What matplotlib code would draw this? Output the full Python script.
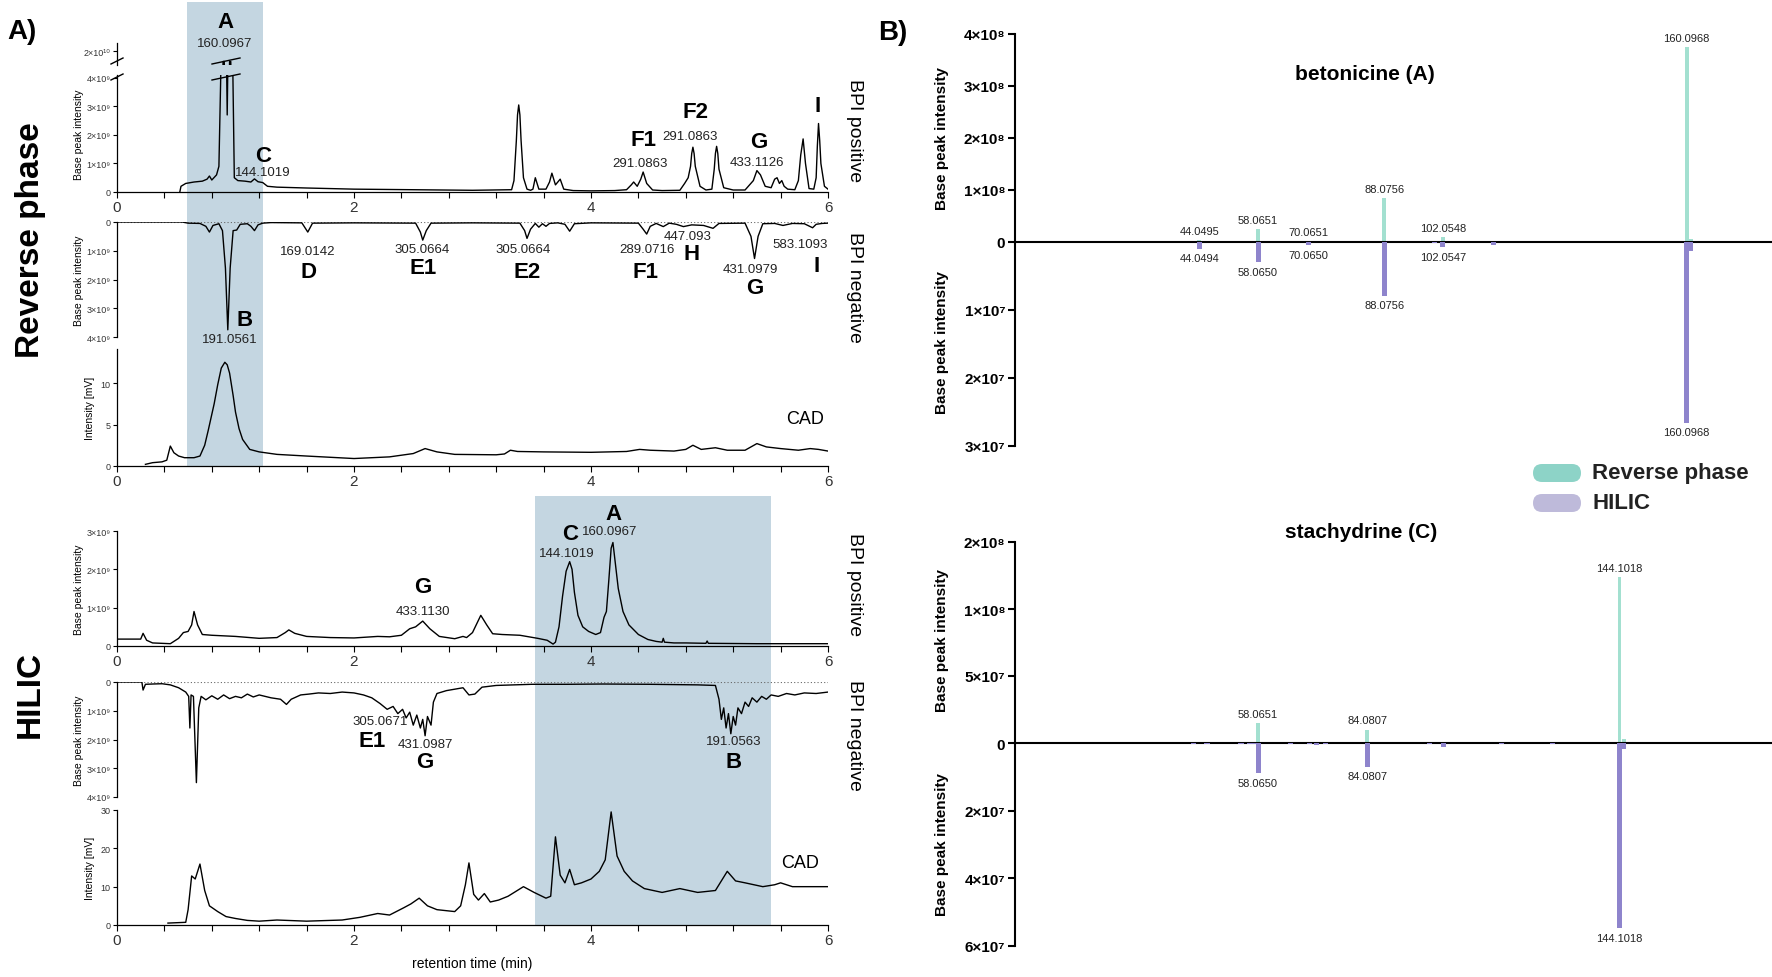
import matplotlib
matplotlib.use("Agg")
import matplotlib.pyplot as plt
import numpy as np
from matplotlib.patches import Rectangle, FancyBboxPatch
from matplotlib.lines import Line2D

plt.rcParams["font.family"] = ["Liberation Sans", "DejaVu Sans"]

W, H = 1772, 978

# ---------------- chromatogram data (time in min, intensity) ----------------
# reverse phase, BPI positive (x1e9)
rp_pos = [(0.53, 0), (0.54, 0.2), (0.58, 0.3), (0.65, 0.35), (0.72, 0.38), (0.76, 0.45),
          (0.78, 0.56), (0.80, 0.42), (0.84, 0.6), (0.86, 0.9), (0.88, 5), (0.895, 18.5),
          (0.905, 18.5), (0.92, 6), (0.93, 2.7), (0.94, 6), (0.95, 18.5), (0.96, 18.5),
          (0.975, 5), (0.99, 0.5), (1.02, 0.4), (1.08, 0.38), (1.13, 0.35), (1.16, 0.46),
          (1.19, 0.36), (1.23, 0.33), (1.27, 0.2), (1.35, 0.17), (1.6, 0.14), (2.0, 0.1),
          (2.5, 0.08), (3.0, 0.06), (3.33, 0.08), (3.35, 0.4), (3.37, 1.8), (3.38, 2.7),
          (3.39, 3.05), (3.40, 2.7), (3.41, 1.8), (3.43, 0.5), (3.46, 0.1), (3.49, 0.06),
          (3.51, 0.1), (3.53, 0.5), (3.56, 0.1),
          (3.62, 0.1), (3.65, 0.35), (3.67, 0.66), (3.7, 0.25), (3.72, 0.35), (3.74, 0.45),
          (3.77, 0.1), (3.85, 0.05), (4.0, 0.04), (4.2, 0.05), (4.3, 0.08), (4.34, 0.25),
          (4.36, 0.35), (4.39, 0.2), (4.42, 0.45), (4.44, 0.7), (4.47, 0.3), (4.52, 0.07),
          (4.6, 0.05), (4.75, 0.06), (4.79, 0.3), (4.82, 0.5), (4.84, 0.9), (4.85, 1.35),
          (4.86, 1.57), (4.87, 1.35), (4.88, 0.9), (4.92, 0.2), (4.97, 0.07), (5.02, 0.1),
          (5.04, 0.8), (5.05, 1.35), (5.06, 1.6), (5.07, 1.35),
          (5.08, 0.8), (5.12, 0.15), (5.2, 0.07), (5.3, 0.07), (5.37, 0.4), (5.4, 0.75),
          (5.43, 0.6), (5.47, 0.2), (5.52, 0.15), (5.55, 0.45), (5.57, 0.5), (5.59, 0.3),
          (5.61, 0.4), (5.63, 0.2), (5.66, 0.1), (5.72, 0.08), (5.75, 0.4), (5.77, 1.3),
          (5.79, 1.86), (5.81, 1.0), (5.84, 0.12), (5.88, 0.1), (5.9, 0.5), (5.91, 1.6),
          (5.92, 2.4), (5.93, 1.8), (5.94, 1.0), (5.97, 0.2), (6.0, 0.1)]

# reverse phase, BPI negative (depth, x1e9)
rp_neg = [(0, 0), (0.55, 0.0), (0.6, 0.04), (0.7, 0.05), (0.75, 0.15), (0.78, 0.35),
          (0.81, 0.12), (0.86, 0.06), (0.89, 0.3), (0.915, 1.6), (0.935, 3.75), (0.955, 1.6),
          (0.98, 0.3), (1.01, 0.28), (1.04, 0.08), (1.1, 0.06), (1.13, 0.15), (1.16, 0.3),
          (1.19, 0.1), (1.23, 0.04), (1.3, 0.02), (1.56, 0.03), (1.61, 0.35), (1.65, 0.04),
          (2.0, 0.03), (2.52, 0.04), (2.56, 0.35), (2.58, 0.63), (2.61, 0.3), (2.65, 0.04),
          (3.0, 0.03), (3.4, 0.04), (3.44, 0.3), (3.46, 0.57), (3.49, 0.25), (3.53, 0.05),
          (3.56, 0.18), (3.59, 0.06), (3.62, 0.15), (3.65, 0.05), (3.72, 0.03), (3.78, 0.08),
          (3.82, 0.32), (3.86, 0.06), (4.0, 0.03), (4.4, 0.04), (4.44, 0.25), (4.47, 0.42),
          (4.5, 0.15), (4.55, 0.05), (4.61, 0.16), (4.66, 0.04), (4.72, 0.08), (4.78, 0.16),
          (4.85, 0.1), (4.95, 0.12), (5.03, 0.22), (5.08, 0.05), (5.3, 0.04), (5.35, 0.5),
          (5.38, 1.27), (5.41, 0.5), (5.45, 0.06), (5.55, 0.05), (5.62, 0.12), (5.7, 0.05),
          (5.8, 0.06), (5.84, 0.14), (5.87, 0.2), (5.9, 0.08), (5.95, 0.05), (6.0, 0.04)]

# reverse phase, CAD (mV)
rp_cad = [(0.24, 0.2), (0.3, 0.4), (0.38, 0.5), (0.42, 0.7), (0.45, 2.4), (0.48, 1.6),
          (0.52, 1.2), (0.57, 1.0), (0.65, 1.0), (0.7, 1.2), (0.74, 2.5), (0.77, 4.3),
          (0.82, 7.5), (0.85, 9.8), (0.88, 11.8), (0.91, 12.5), (0.93, 12.2), (0.95, 11.2),
          (0.98, 8.5), (1.0, 6.5), (1.03, 4.5), (1.06, 3.2),
          (1.12, 2.0), (1.2, 1.7), (1.35, 1.4), (1.6, 1.2), (2.0, 0.9), (2.3, 1.1),
          (2.5, 1.5), (2.6, 2.1), (2.7, 1.7), (2.85, 1.4), (3.2, 1.35), (3.27, 1.45),
          (3.32, 1.9), (3.38, 1.75), (3.6, 1.7), (4.0, 1.65), (4.3, 1.75), (4.41, 2.0),
          (4.5, 1.9), (4.7, 1.8), (4.8, 2.0), (4.86, 2.5), (4.93, 2.0), (5.05, 2.2),
          (5.15, 1.9), (5.3, 1.9), (5.4, 2.7), (5.48, 2.3), (5.6, 2.1), (5.75, 1.9),
          (5.85, 2.1), (5.92, 2.0), (6.0, 1.8)]

# HILIC, BPI positive (x1e9)
hi_pos = [(0, 0.18), (0.2, 0.18), (0.22, 0.33), (0.25, 0.15), (0.3, 0.08), (0.45, 0.06),
          (0.52, 0.2), (0.56, 0.35), (0.6, 0.38), (0.63, 0.55), (0.65, 0.9), (0.68, 0.55),
          (0.72, 0.3), (0.8, 0.28), (1.0, 0.25), (1.2, 0.2), (1.35, 0.22), (1.42, 0.35),
          (1.45, 0.42), (1.5, 0.33), (1.6, 0.25), (1.8, 0.22), (2.0, 0.21), (2.2, 0.25),
          (2.3, 0.24), (2.4, 0.28), (2.47, 0.45), (2.52, 0.5), (2.58, 0.65), (2.64, 0.45),
          (2.72, 0.25), (2.85, 0.19), (2.92, 0.25), (2.95, 0.22), (3.0, 0.35), (3.07, 0.8),
          (3.12, 0.55), (3.17, 0.32), (3.25, 0.3), (3.4, 0.28), (3.55, 0.2), (3.63, 0.15),
          (3.68, 0.05), (3.70, 0.1), (3.73, 0.5), (3.76, 1.3), (3.79, 1.95), (3.82, 2.2),
          (3.84, 2.0), (3.86, 1.4), (3.89, 0.8), (3.93, 0.5), (3.98, 0.38), (4.04, 0.3),
          (4.08, 0.35), (4.11, 0.75), (4.13, 0.9), (4.15, 1.7), (4.17, 2.55), (4.185, 2.7),
          (4.2, 2.3), (4.23, 1.5), (4.27, 0.9), (4.32, 0.55), (4.4, 0.3), (4.48, 0.17),
          (4.55, 0.12), (4.6, 0.1), (4.61, 0.2),
          (4.62, 0.1), (4.7, 0.08), (4.8, 0.08), (4.97, 0.07), (4.98, 0.13), (4.99, 0.07),
          (5.4, 0.06), (6.0, 0.06)]

# HILIC, BPI negative (depth, x1e9)
hi_neg = [(0, 0), (0.21, 0.0), (0.22, 0.28), (0.24, 0.08), (0.3, 0.07), (0.38, 0.06),
          (0.45, 0.1), (0.52, 0.2), (0.58, 0.35), (0.605, 0.5), (0.615, 1.6), (0.625, 0.45),
          (0.645, 0.5), (0.67, 3.5), (0.69, 0.9), (0.71, 0.5), (0.75, 0.62), (0.8, 0.48),
          (0.85, 0.6), (0.9, 0.45), (0.95, 0.58), (1.0, 0.5), (1.05, 0.55), (1.1, 0.42),
          (1.15, 0.52), (1.2, 0.45), (1.25, 0.5), (1.3, 0.55), (1.38, 0.6), (1.43, 0.78),
          (1.47, 0.6), (1.55, 0.45), (1.62, 0.42), (1.7, 0.38), (1.8, 0.4), (1.9, 0.35),
          (2.0, 0.38), (2.08, 0.45), (2.15, 0.55), (2.22, 0.75), (2.28, 0.95), (2.33, 0.85),
          (2.37, 1.1), (2.41, 0.95), (2.44, 1.25), (2.47, 1.05), (2.5, 1.5), (2.53, 1.15),
          (2.56, 1.6), (2.58, 1.3), (2.6, 1.87), (2.62, 1.2), (2.65, 1.5), (2.67, 0.7),
          (2.7, 0.4), (2.78, 0.3), (2.85, 0.25), (2.92, 0.2), (2.97, 0.45), (3.02, 0.42),
          (3.08, 0.18), (3.2, 0.12), (3.5, 0.08), (3.8, 0.08), (4.1, 0.07), (4.5, 0.08),
          (4.9, 0.1), (5.05, 0.12), (5.08, 0.6), (5.1, 1.3), (5.12, 0.9), (5.14, 1.6),
          (5.16, 1.1), (5.18, 1.8), (5.2, 1.2), (5.22, 1.5), (5.24, 0.9), (5.27, 1.1),
          (5.3, 0.7), (5.33, 0.85), (5.36, 0.55), (5.4, 0.7), (5.44, 0.5), (5.48, 0.6),
          (5.52, 0.45), (5.58, 0.5), (5.65, 0.4), (5.72, 0.45), (5.8, 0.38), (5.9, 0.4),
          (6.0, 0.35)]

# HILIC, CAD (mV)
hi_cad = [(0.43, 0.5), (0.58, 0.7), (0.6, 4.0), (0.63, 12.8), (0.66, 12.0), (0.7, 15.9),
          (0.74, 9.0), (0.78, 5.0), (0.85, 3.5), (0.92, 2.2), (1.0, 1.7), (1.1, 1.2),
          (1.2, 1.0), (1.35, 1.3), (1.6, 1.0), (1.9, 1.3), (2.05, 2.0), (2.2, 3.0),
          (2.3, 2.6), (2.42, 4.5), (2.48, 5.5), (2.55, 7.0), (2.62, 5.0), (2.7, 4.0),
          (2.85, 3.5), (2.9, 5.0), (2.94, 10.5), (2.97, 16.2), (3.01, 8.0), (3.05, 6.5),
          (3.1, 8.2), (3.15, 6.0), (3.22, 6.5), (3.3, 7.5), (3.43, 10.0), (3.52, 8.5),
          (3.62, 7.0), (3.66, 7.5), (3.7, 23.0), (3.74, 13.0), (3.78, 11.0), (3.82, 14.5),
          (3.86, 10.5), (3.92, 11.0), (4.0, 12.0), (4.07, 14.0), (4.12, 17.0), (4.17, 29.5),
          (4.22, 18.0), (4.28, 14.0), (4.35, 11.5), (4.45, 9.5), (4.6, 8.5), (4.75, 9.5),
          (4.9, 8.5), (5.05, 9.0), (5.1, 11.5), (5.15, 14.0), (5.22, 11.5), (5.3, 11.0),
          (5.45, 10.0), (5.55, 10.5), (5.6, 11.0), (5.7, 10.0), (6.0, 10.0)]

# ---------------- MS/MS spectra (m/z, base peak intensity) ----------------
beton_rp_mz = [44.0495, 58.0651, 70.0651, 88.0756, 102.0548, 160.0968]
beton_rp_int = [4e6, 2.5e7, 2e6, 8.5e7, 1.0e7, 3.75e8]
beton_rp_minor_mz = [100.1, 161.1]
beton_rp_minor_int = [1e6, 5e6]
beton_hil_mz = [44.0494, 58.0650, 70.0650, 88.0756, 102.0547, 160.0968]
beton_hil_int = [1.0e6, 3.0e6, 5e5, 7.9e6, 8e5, 2.66e7]
beton_hil_minor_mz = [100.0, 114.1, 161.1]
beton_hil_minor_int = [2e5, 4e5, 1.3e6]

stach_rp_mz = [58.0651, 84.0807, 144.1018]
stach_rp_int = [1.5e7, 1.0e7, 1.48e8]
stach_rp_minor_mz = [145.1]
stach_rp_minor_int = [3e6]
stach_hil_mz = [58.0650, 84.0807, 144.1018]
stach_hil_int = [9e6, 7e6, 5.48e7]
stach_hil_minor_mz = [42.6, 45.9, 54.0, 56.0, 57.0, 65.7, 70.4, 72.0, 74.2, 98.8, 102.1, 116.1, 128.1, 145.1]
stach_hil_minor_int = [2e5, 3e5, 4e5, 3e5, 4e5, 3e5, 4e5, 6e5, 4e5, 3e5, 1.2e6, 2e5, 3e5, 1.8e6]

RP_COL = "#a3e0d0"
HIL_COL = "#8e84cc"
SHADE = "#c4d6e1"

SUP = {"7": "⁷", "8": "⁸", "9": "⁹", "10": "¹⁰"}


def rect(x0, y0, x1, y1):
    return [x0 / W, 1 - y1 / H, (x1 - x0) / W, (y1 - y0) / H]


def sci(v, e):
    return "0" if v == 0 else f"{v:g}×10{SUP[e]}"


fig = plt.figure(figsize=(W / 100, H / 100), dpi=100)


def ftext(x, y, s, **kw):
    kw.setdefault("ha", "center")
    kw.setdefault("va", "center")
    fig.text(x / W, 1 - y / H, s, **kw)


xt = np.round(np.arange(0, 6.01, 0.4), 1)
xl = [f"{x:g}" if x % 2 == 0 else "" for x in xt]


def chrom(box, ylim, yticks, ylabels, xlab=True):
    ax = fig.add_axes(rect(*box))
    ax.set_facecolor("none")
    ax.set_xlim(0, 6)
    ax.set_ylim(*ylim)
    ax.spines[["top", "right"]].set_visible(False)
    ax.spines["left"].set_linewidth(0.9)
    ax.set_yticks(yticks, ylabels)
    ax.tick_params(axis="y", length=3, width=0.8, labelsize=6.5, pad=1.5, labelcolor="#333")
    if xlab:
        ax.spines["bottom"].set_linewidth(0.9)
        ax.set_xticks(xt, xl)
        ax.tick_params(axis="x", length=4, width=0.8, labelsize=11, pad=2, labelcolor="#333")
    else:
        ax.spines["bottom"].set_visible(False)
        ax.set_xticks([])
    return ax


def trace(ax, data):
    t, v = np.array(data).T
    ax.plot(t, v, color="k", lw=1.0)


# shaded retention windows
for x0, y0, x1, y1 in [(187, 3, 263, 467), (535, 497, 771, 926)]:
    fig.add_artist(Rectangle((x0 / W, 1 - y1 / H), (x1 - x0) / W, (y1 - y0) / H,
                             transform=fig.transFigure, color=SHADE, lw=0, zorder=-1))

# --- reverse phase ---
ax_top = chrom((117, 44, 828, 66), (18.0, 21.145), [20], [sci(2, "10")], xlab=False)
trace(ax_top, rp_pos)
ax = chrom((117, 76, 828, 193), (0, 4.1), [0, 1, 2, 3, 4], [sci(v, "9") for v in [0, 1, 2, 3, 4]])
trace(ax, rp_pos)
ax.set_ylabel("Base peak intensity", fontsize=7.5, labelpad=2)
ax = chrom((117, 223, 828, 338), (4, 0), [0, 1, 2, 3, 4], [sci(v, "9") for v in [0, 1, 2, 3, 4]], xlab=False)
ax.axhline(0, color="#666", lw=0.8, ls=(0, (1, 2)))
trace(ax, rp_neg)
ax.set_ylabel("Base peak intensity", fontsize=7.5, labelpad=2)
ax = chrom((117, 350, 828, 467), (0, 14.1), [0, 5, 10], ["0", "5", "10"])
trace(ax, rp_cad)
ax.set_ylabel("Intensity [mV]", fontsize=7.5, labelpad=4)

# --- HILIC ---
ax = chrom((117, 532, 828, 647), (0, 3), [0, 1, 2, 3], [sci(v, "9") for v in [0, 1, 2, 3]])
trace(ax, hi_pos)
ax.set_ylabel("Base peak intensity", fontsize=7.5, labelpad=2)
ax = chrom((117, 683, 828, 798), (4, 0), [0, 1, 2, 3, 4], [sci(v, "9") for v in [0, 1, 2, 3, 4]], xlab=False)
ax.axhline(0, color="#666", lw=0.8, ls=(0, (1, 2)))
trace(ax, hi_neg)
ax.set_ylabel("Base peak intensity", fontsize=7.5, labelpad=2)
ax = chrom((117, 811, 828, 926), (0, 30), [0, 10, 20, 30], ["0", "10", "20", "30"])
trace(ax, hi_cad)
ax.set_ylabel("Intensity [mV]", fontsize=7.5, labelpad=4)
ax.set_xlabel("retention time (min)", fontsize=10, labelpad=6)


# axis break marks
def seg(x0, y0, x1, y1, lw=1.0):
    fig.add_artist(Line2D([x0 / W, x1 / W], [1 - y0 / H, 1 - y1 / H],
                          transform=fig.transFigure, color="k", lw=lw))


for yb in (62, 78):
    seg(111, yb + 3, 123, yb - 3)
    seg(212, yb + 3, 240, yb - 3)

# peak annotations, left panel
big = dict(fontsize=16, fontweight="bold")
small = dict(fontsize=9.5, color="#222")
ftext(225, 22, "A", **big); ftext(225, 44, "160.0967", **small)
ftext(263, 157, "C", **big); ftext(263, 173, "144.1019", **small)
ftext(643, 140, "F1", **big); ftext(640, 164, "291.0863", **small)
ftext(695, 113, "F2", **big); ftext(690, 137, "291.0863", **small)
ftext(759, 143, "G", **big); ftext(757, 163, "433.1126", **small)
ftext(818, 107, "I", **big)
ftext(308, 252, "169.0142", **small); ftext(308, 272, "D", **big)
ftext(422, 250, "305.0664", **small); ftext(423, 268, "E1", **big)
ftext(523, 250, "305.0664", **small); ftext(527, 272, "E2", **big)
ftext(647, 250, "289.0716", **small); ftext(645, 272, "F1", **big)
ftext(688, 237, "447.093", **small); ftext(692, 255, "H", **big)
ftext(750, 270, "431.0979", **small); ftext(755, 288, "G", **big)
ftext(800, 245, "583.1093", **small); ftext(817, 267, "I", **big)
ftext(245, 321, "B", **big); ftext(230, 340, "191.0561", **small)
ftext(423, 588, "G", **big); ftext(423, 612, "433.1130", **small)
ftext(570, 535, "C", **big); ftext(567, 554, "144.1019", **small)
ftext(613, 515, "A", **big); ftext(610, 532, "160.0967", **small)
ftext(380, 722, "305.0671", **small); ftext(372, 742, "E1", **big)
ftext(425, 745, "431.0987", **small); ftext(425, 763, "G", **big)
ftext(734, 742, "191.0563", **small); ftext(734, 762, "B", **big)

# side labels
ftext(855, 131, "BPI positive", rotation=-90, fontsize=14)
ftext(855, 287, "BPI negative", rotation=-90, fontsize=14)
ftext(805, 420, "CAD", fontsize=13)
ftext(855, 585, "BPI positive", rotation=-90, fontsize=14)
ftext(855, 735, "BPI negative", rotation=-90, fontsize=14)
ftext(800, 864, "CAD", fontsize=13)
ftext(30, 240, "Reverse phase", rotation=90, fontsize=24, fontweight="bold")
ftext(30, 695, "HILIC", rotation=90, fontsize=24, fontweight="bold")
ftext(22, 32, "A)", fontsize=20, fontweight="bold")
ftext(893, 33, "B)", fontsize=20, fontweight="bold")


# ---------------- right panel: mirror spectra ----------------
def ms(box, zero=False):
    ax = fig.add_axes(rect(*box))
    ax.set_facecolor("none")
    ax.set_xlim(0.2, 180.4)
    ax.spines[["top", "right"]].set_visible(False)
    ax.spines["left"].set_linewidth(1.5)
    if zero:
        ax.spines["bottom"].set_linewidth(1.5)
    else:
        ax.spines["bottom"].set_visible(False)
    ax.set_xticks([])
    return ax


def finish(ax, ylim, yticks, ylabels):
    ax.set_ylim(*ylim)
    ax.set_yticks(yticks, ylabels)
    ax.tick_params(axis="y", length=5, width=1.5, labelsize=11, pad=2)
    for lab in ax.get_yticklabels():
        lab.set_fontweight("bold")


def bars_up(ax, mz, val, minor_mz, minor_val):
    ax.bar(mz, val, width=0.9, color=RP_COL, zorder=2)
    ax.bar(minor_mz, minor_val, width=0.9, color=RP_COL, zorder=2)
    for m, v in zip(mz, val):
        ax.annotate(f"{m:.4f}", (m, v), xytext=(0, 3), textcoords="offset points",
                    ha="center", va="bottom", fontsize=8, color="#222")


def bars_down(ax, mz, val, minor_mz, minor_val):
    ax.bar(mz, val, width=1.2, color=HIL_COL, zorder=2)
    ax.bar(minor_mz, minor_val, width=1.2, color=HIL_COL, zorder=2)
    for m, v in zip(mz, val):
        ax.annotate(f"{m:.4f}", (m, v), xytext=(0, -3), textcoords="offset points",
                    ha="center", va="top", fontsize=8, color="#222")


# betonicine
ax = ms((1015, 35, 1772, 243), zero=True)
bars_up(ax, beton_rp_mz, beton_rp_int, beton_rp_minor_mz, beton_rp_minor_int)
finish(ax, (0, 4e8), [0, 1e8, 2e8, 3e8, 4e8], ["0"] + [sci(v, "8") for v in [1, 2, 3, 4]])
ax = ms((1015, 243, 1772, 447))
bars_down(ax, beton_hil_mz, beton_hil_int, beton_hil_minor_mz, beton_hil_minor_int)
finish(ax, (3e7, 0), [1e7, 2e7, 3e7], [sci(v, "7") for v in [1, 2, 3]])

# stachydrine (segmented upper axis)
seg_in = [0, 5e7, 1e8, 2e8]
seg_out = [0, 1, 2, 3]
ax = ms((1015, 543, 1772, 744), zero=True)
ax.set_yscale("function", functions=(lambda y: np.interp(y, seg_in, seg_out),
                                     lambda y: np.interp(y, seg_out, seg_in)))
bars_up(ax, stach_rp_mz, stach_rp_int, stach_rp_minor_mz, stach_rp_minor_int)
finish(ax, (0, 2e8), [0, 5e7, 1e8, 2e8], ["0", sci(5, "7"), sci(1, "8"), sci(2, "8")])
ax.minorticks_off()
ax = ms((1015, 744, 1772, 947))
bars_down(ax, stach_hil_mz, stach_hil_int, stach_hil_minor_mz, stach_hil_minor_int)
finish(ax, (6e7, 0), [2e7, 4e7, 6e7], [sci(v, "7") for v in [2, 4, 6]])

ftext(942, 138, "Base peak intensity", rotation=90, fontsize=11, fontweight="bold")
ftext(942, 343, "Base peak intensity", rotation=90, fontsize=11, fontweight="bold")
ftext(942, 640, "Base peak intensity", rotation=90, fontsize=11, fontweight="bold")
ftext(942, 845, "Base peak intensity", rotation=90, fontsize=11, fontweight="bold")
ftext(1365, 75, "betonicine (A)", fontsize=15, fontweight="bold")
ftext(1361, 533, "stachydrine (C)", fontsize=15, fontweight="bold")

# legend
for yc, col, lab in [(474, "#8dd3c7", "Reverse phase"), (504, "#bebada", "HILIC")]:
    fig.add_artist(FancyBboxPatch((1533 / 100, (H - yc - 9) / 100), 0.48, 0.18,
                                  boxstyle="round,pad=0,rounding_size=0.09",
                                  transform=fig.dpi_scale_trans, fc=col, ec="none"))
    ftext(1592, yc, lab, ha="left", fontsize=16, fontweight="bold", color="#222")

fig.savefig("out.png", dpi=100)
